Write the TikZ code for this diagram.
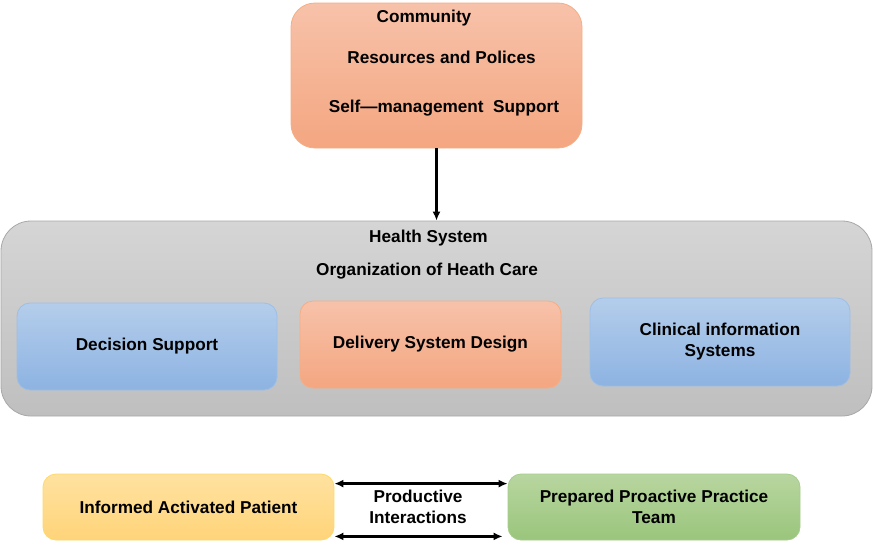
\documentclass[tikz,border=0pt]{standalone}
\usepackage{fontspec}
\setmainfont{Liberation Sans}
\usepackage{tikz}
\usetikzlibrary{arrows.meta}
\definecolor{orgtop}{HTML}{F7C2AA}
\definecolor{orgbot}{HTML}{F4A680}
\definecolor{orgline}{HTML}{F4AE86}
\definecolor{graytop}{HTML}{D5D5D5}
\definecolor{graybot}{HTML}{BFBFBF}
\definecolor{grayline}{HTML}{A8A8A8}
\definecolor{bluetop}{HTML}{B4CDEB}
\definecolor{bluebot}{HTML}{8DB3E2}
\definecolor{blueline}{HTML}{9DBFE6}
\definecolor{yeltop}{HTML}{FFE2A0}
\definecolor{yelbot}{HTML}{FFD479}
\definecolor{yelline}{HTML}{FFD966}
\definecolor{grntop}{HTML}{B8D6A0}
\definecolor{grnbot}{HTML}{9AC57C}
\definecolor{grnline}{HTML}{A6CD8C}
\tikzset{
    lbl/.style={font=\bfseries\fontsize{17.2}{21}\selectfont, align=center, inner sep=0pt},
    box/.style={lbl, rectangle, draw, line width=0.8pt, rounded corners=13pt},
    orgbox/.style={box, draw=orgline, top color=orgtop, bottom color=orgbot},
    graybox/.style={box, draw=grayline, top color=graytop, bottom color=graybot, rounded corners=30pt},
    bluebox/.style={box, draw=blueline, top color=bluetop, bottom color=bluebot},
    yelbox/.style={box, draw=yelline, top color=yeltop, bottom color=yelbot},
    grnbox/.style={box, draw=grnline, top color=grntop, bottom color=grnbot},
    link/.style={draw=black, line width=2.4pt, >={Latex[length=9pt,width=8pt]}}
}
\begin{document}
\begin{tikzpicture}[x=1pt, y=-1pt]
            \useasboundingbox (0,0) rectangle (873,547);
            \node[orgbox, rounded corners=24pt, minimum width=291pt, minimum height=145pt](comm) at (436.5,75.5) {};
            \node[lbl](commA) at (424,18)  {Community};
            \node[lbl](commB) at (441.5,57) {Resources and Polices};
            \node[lbl](commC) at (444,108) {Self---management\ \ Support};
            \node[graybox, minimum width=871pt, minimum height=195pt](hsys) at (436.5,318.5) {};
            \node[lbl](hsysA) at (428.5,238) {Health System};
            \node[lbl](hsysB) at (427,271) {Organization of Heath Care};
            \node[bluebox, minimum width=260pt, minimum height=87pt](decision) at (147,346.5) {Decision Support};
            \node[orgbox, minimum width=261pt, minimum height=87pt](delivery) at (430.5,344.5) {Delivery System Design};
            \node[bluebox, minimum width=260pt, minimum height=88pt](clinical) at (720,342) {Clinical information\\Systems};
            \node[yelbox, minimum width=291pt, minimum height=66pt](patient) at (188.5,507) {Informed Activated Patient};
            \node[grnbox, minimum width=292pt, minimum height=66pt](team) at (654,507) {Prepared Proactive Practice\\Team};
            \node[lbl](prod) at (418,507) {Productive\\Interactions};
            \path
                (comm) edge [link, ->] (hsys)
                ([yshift=-10pt]patient.north east) edge [link, <->] ([yshift=-10pt]team.north west)
                ([yshift=4pt]patient.south east) edge [link, <->] ([yshift=4pt, xshift=-5pt]team.south west)
                ;
        \end{tikzpicture}
\end{document}
